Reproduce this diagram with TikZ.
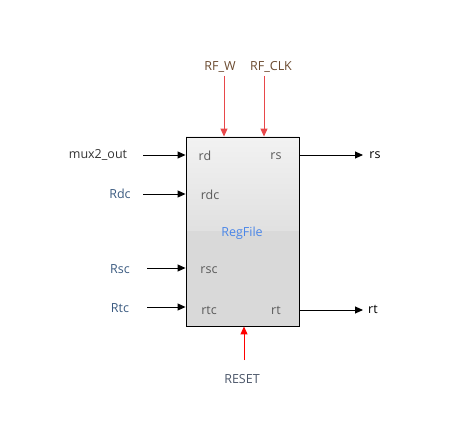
\documentclass[tikz,border=0pt]{standalone}
\usepackage{fontspec}
\setmainfont{Open Sans}
\usetikzlibrary{arrows.meta}
\definecolor{inblue}{HTML}{3A5A80}
\definecolor{topbrown}{HTML}{6B4A2F}
\definecolor{resetc}{HTML}{4A5568}
\definecolor{portc}{HTML}{5A5A5A}
\definecolor{regblue}{HTML}{4A86E8}
\definecolor{ctlred}{HTML}{E8474A}
\tikzset{
  lbl/.style={font=\fontsize{12.5}{14}\selectfont, inner sep=0pt},
  port/.style={lbl, text=portc},
  sig/.style={-{Triangle[length=8pt,width=7pt]}, line width=0.9pt, black},
  ctl/.style={-{Triangle[length=8pt,width=7pt]}, line width=1pt, ctlred},
}
\begin{document}
\begin{tikzpicture}[x=1pt,y=-1pt]
\useasboundingbox (0,0) rectangle (473,443);
% box body
\shade[top color=white!95!black, bottom color=white!88!black] (186,137) rectangle (299,231);
\fill[white!85!black] (186,231) rectangle (299,326);
\node[draw=black, line width=0.9pt, minimum width=113pt, minimum height=189pt, inner sep=0pt] (rf) at (242.5,231.5) {};
\node[lbl, text=regblue] (rfname) at (242,233) {RegFile};
% internal ports
\node[port] (prd) at (205,156) {rd};
\node[port] (prs) at (276,156) {rs};
\node[port] (prdc) at (210,195) {rdc};
\node[port] (prsc) at (209,270) {rsc};
\node[port] (prtc) at (209,310) {rtc};
\node[port] (prt) at (276,310) {rt};
% input labels
\node[lbl, text=black!80] (mux) at (98,155) {mux2\_out};
\node[lbl, text=inblue] (rdc) at (120,194) {Rdc};
\node[lbl, text=inblue] (rsc) at (120,269) {Rsc};
\node[lbl, text=inblue] (rtc) at (120,308) {Rtc};
\coordinate (muxe) at (143,155);
\coordinate (rdce) at (143,194);
\coordinate (rsce) at (147,268);
\coordinate (rtce) at (147,307);
\draw[sig] (muxe) -- (rf.west |- muxe);
\draw[sig] (rdce) -- (rf.west |- rdce);
\draw[sig] (rsce) -- (rf.west |- rsce);
\draw[sig] (rtce) -- (rf.west |- rtce);
% outputs
\node[lbl, text=black] (rs) at (375,155) {rs};
\node[lbl, text=black] (rt) at (373,309) {rt};
\coordinate (rse) at (363,155);
\coordinate (rte) at (363,310);
\draw[sig] (rf.east |- rse) -- (rse);
\draw[sig] (rf.east |- rte) -- (rte);
% control top
\node[lbl, text=topbrown] (rfw) at (220,67) {RF\_W};
\node[lbl, text=topbrown] (rfclk) at (271,67) {RF\_CLK};
\coordinate (rfws) at (224,76);
\coordinate (rfclks) at (264,76);
\draw[ctl] (rfws) -- (rfws |- rf.north);
\draw[ctl] (rfclks) -- (rfclks |- rf.north);
% reset
\node[lbl, text=resetc] (reset) at (242,379) {RESET};
\coordinate (resets) at (244,360);
\draw[-{Triangle[length=8pt,width=7pt]}, line width=1pt, red] (resets) -- (resets |- rf.south);
\end{tikzpicture}
\end{document}
